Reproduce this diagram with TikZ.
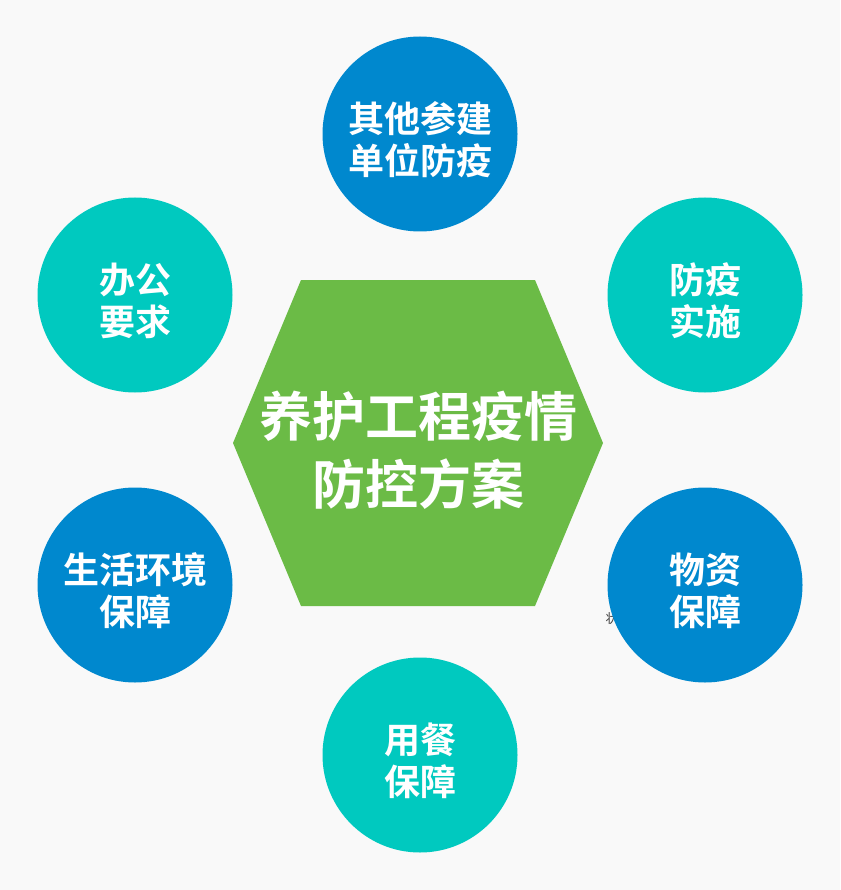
\documentclass[tikz,border=0pt]{standalone}
\usepackage{fontspec}
\newfontfamily\cjk{Noto Sans CJK SC}[BoldFont={Noto Sans CJK SC Bold}]
\usetikzlibrary{positioning}
\definecolor{pagegrey}{HTML}{F9F9F9}
\definecolor{hubgreen}{HTML}{6BBB46}
\definecolor{dotblue}{HTML}{0088CE}
\definecolor{dotteal}{HTML}{00C9BF}

\begin{document}
\begin{tikzpicture}[x=1pt, y=-1pt,
	bubble/.style = {circle, minimum size=195pt, inner sep=0pt},
	label/.style = {text=white, align=center, font=\cjk\bfseries\fontsize{36}{42}\selectfont},
	hubtext/.style = {text=white, align=center, font=\cjk\bfseries\fontsize{53}{68}\selectfont}]
		\fill[pagegrey] (0,0) rectangle (840,890);
		% centre
		\fill[hubgreen] (233,443) -- (301,280) -- (535,280) -- (603,443) -- (535,606) -- (301,606) -- cycle;
		\node[hubtext] (hub) at (418,450) {养护工程疫情\\防控方案};
		\node[text=black!75, font=\cjk\fontsize{13}{13}\selectfont] (stray) at (612,619) {状};
		% outer circles
		\node[bubble, fill=dotblue] (c_1) at (420,134) {};
		\node[bubble, fill=dotteal] (c_2) at (705,295) {};
		\node[bubble, fill=dotblue] (c_3) at (705,585) {};
		\node[bubble, fill=dotteal] (c_4) at (420,755) {};
		\node[bubble, fill=dotblue] (c_5) at (135,585) {};
		\node[bubble, fill=dotteal] (c_6) at (135,295) {};
		\node[label] at ([yshift=-6pt]c_1.center) {其他参建\\单位防疫};
		\node[label] at ([yshift=-6pt]c_2.center) {防疫\\实施};
		\node[label] at ([yshift=-6pt]c_3.center) {物资\\保障};
		\node[label] at ([yshift=-6pt]c_4.center) {用餐\\保障};
		\node[label] at ([yshift=-6pt]c_5.center) {生活环境\\保障};
		\node[label] at ([yshift=-6pt]c_6.center) {办公\\要求};
\end{tikzpicture}
\end{document}
